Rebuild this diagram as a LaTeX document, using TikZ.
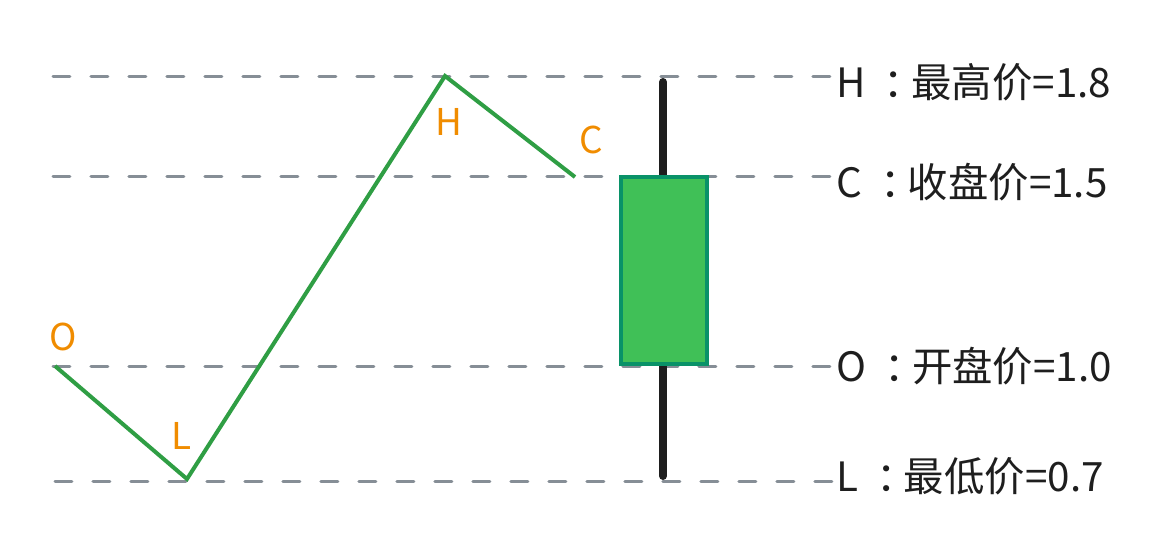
\documentclass[tikz,border=0pt]{standalone}
\usepackage{fontspec}
\setmainfont{Noto Sans CJK SC}
\definecolor{k_green}{HTML}{2F9E44}
\definecolor{k_orange}{HTML}{F08C00}
\definecolor{k_gray}{HTML}{868E96}
\definecolor{k_black}{HTML}{1E1E1E}
\definecolor{k_fill}{HTML}{40C057}
\definecolor{k_edge}{HTML}{099268}
\usetikzlibrary{positioning}
\newcommand\pricesep{\hspace{0.45em}：\hspace{-0.32em}}

\begin{document}
\begin{tikzpicture}[
        x=0.02cm, y=-0.02cm,
        guide/.style={draw=k_gray,line width=0.06cm,line cap=round,dash pattern=on 0.34cm off 0.42cm},
        price/.style={anchor=west,inner sep=0pt,text=k_black,font=\fontsize{23}{26}\selectfont},
        mark label/.style={text=k_orange,font=\fontsize{21}{24}\selectfont},
        trend/.style={draw=k_green,line width=0.08cm,line join=miter},
        body/.style={draw=k_edge,fill=k_fill,line width=0.08cm,minimum width=1.72cm,minimum height=3.74cm,inner sep=0pt},
        wick/.style={draw=k_black,line width=0.16cm,line cap=round}
    ]
        \useasboundingbox (0,0) rectangle (1171,554);
        % price levels
        \coordinate (gH) at (53,77);
        \coordinate (gC) at (53,177);
        \coordinate (gO) at (53,366);
        \coordinate (gL) at (55,481);
        \node[price] (tH) at (836,82) {H\pricesep 最高价=1.8};
        \node[price] (tC) at (836,182) {C\pricesep 收盘价=1.5};
        \node[price] (tO) at (836,366) {O\pricesep 开盘价=1.0};
        \node[price] (tL) at (836,476) {L\pricesep 最低价=0.7};
        \draw[guide] (gH) -- (gH -| tH.west);
        \draw[guide] (gC) -- (gC -| tC.west);
        \draw[guide] (gO) -- (gO -| tO.west);
        \draw[guide] (gL) -- (gL -| tL.west);
        % price path
        \coordinate (pO) at (55,366);
        \coordinate (pL) at (187,479);
        \coordinate (pH) at (445,76);
        \coordinate (pC) at (575,177);
        \draw[trend] (pO) -- (pL) -- (pH) -- (pC);
        \node[mark label] (lO) at (63,337) {O};
        \node[mark label] (lL) at (182,436) {L};
        \node[mark label] (lH) at (449,122) {H};
        \node[mark label] (lC) at (591,140) {C};
        % candle
        \coordinate (wTop) at (663,82);
        \coordinate (wBot) at (663,476);
        \draw[wick] (wTop) -- (wBot);
        \node[body] (box) at (664,270.5) {};
\end{tikzpicture}
\end{document}
